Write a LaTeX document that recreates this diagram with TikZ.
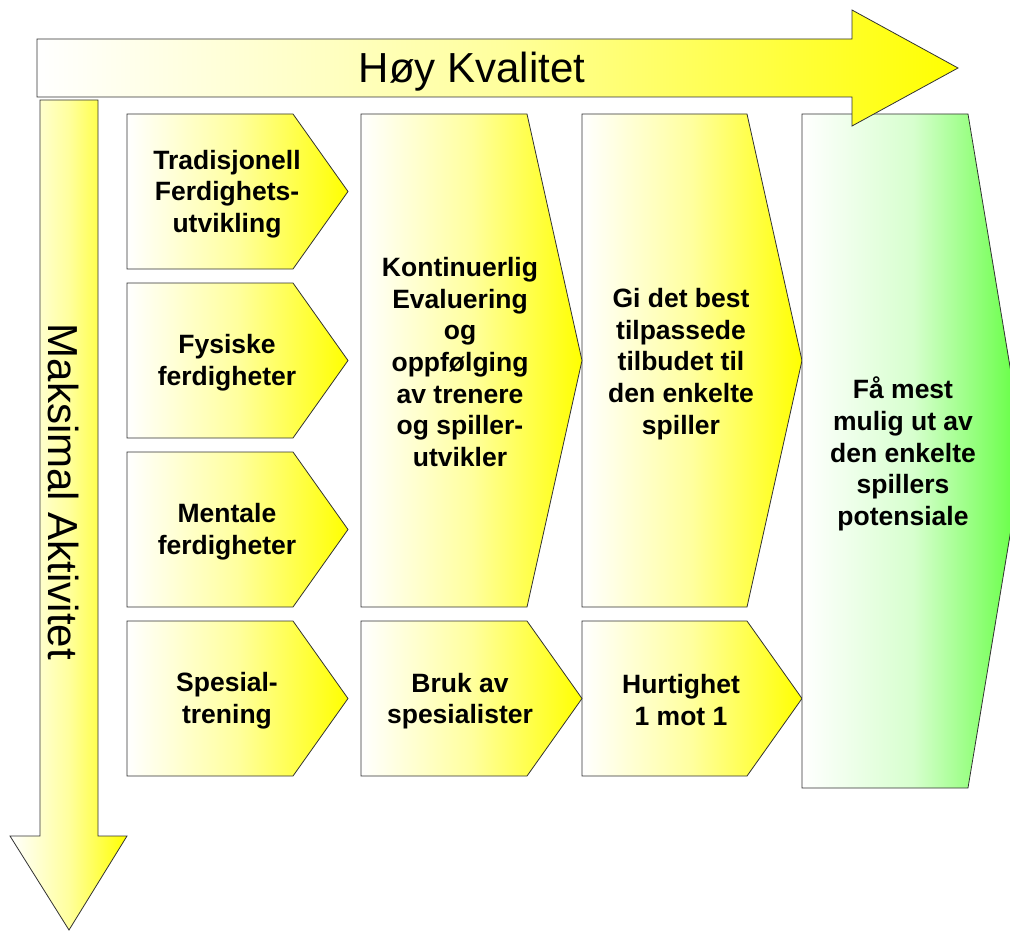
\documentclass[tikz,border=0pt]{standalone}
\usepackage{fontspec}
\setmainfont{Liberation Sans}
\definecolor{grn}{RGB}{95,255,60}
\definecolor{edge}{RGB}{50,50,50}
\begin{document}
\begin{tikzpicture}[x=1pt,y=-1pt,
  yshp/.style={draw=edge, line width=0.8pt, left color=white, right color=yellow, middle color=yellow!38!white},
  gshp/.style={draw=edge, line width=0.8pt, left color=white, right color=grn, middle color=grn!25!white},
  lbl/.style={align=center, font=\bfseries\fontsize{26.5}{31.7}\selectfont, inner sep=0pt},
  big/.style={font=\fontsize{42}{48}\selectfont, inner sep=0pt}]
\useasboundingbox (0,0) rectangle (1010,931);
\clip (0,0) rectangle (1010,931);

% vertical arrow
\path[yshp] (40,100) -- (98,100) -- (98,836) -- (127,836) -- (69,930) -- (10,836) -- (40,836) -- cycle;
\node[big, rotate=-90, anchor=base] (ma) at (48,492) {Maksimal Aktivitet};

% column 1
\path[yshp] (127,114) -- (293,114) -- (348,191.5) -- (293,269) -- (127,269) -- cycle;
\path[yshp] (127,283) -- (293,283) -- (348,360.5) -- (293,438) -- (127,438) -- cycle;
\path[yshp] (127,452) -- (293,452) -- (348,529.5) -- (293,607) -- (127,607) -- cycle;
\path[yshp] (127,621) -- (293,621) -- (348,698.5) -- (293,776) -- (127,776) -- cycle;

% column 3 (drawn before column 2 so column 2 tips lie on top)
\path[yshp] (582,114) -- (747,114) -- (802,360.5) -- (747,607) -- (582,607) -- cycle;
\path[yshp] (582,621) -- (747,621) -- (802,698.5) -- (747,776) -- (582,776) -- cycle;

% column 2
\path[yshp] (361,114) -- (527,114) -- (582,360.5) -- (527,607) -- (361,607) -- cycle;
\path[yshp] (361,621) -- (527,621) -- (582,698.5) -- (527,776) -- (361,776) -- cycle;

% column 4
\path[gshp] (802,114) -- (968,114) -- (1024,451) -- (968,788) -- (802,788) -- cycle;

% top arrow
\path[yshp] (37,39) -- (852,39) -- (852,10) -- (958,68) -- (852,126) -- (852,97) -- (37,97) -- cycle;
\node[big, anchor=base] (hk) at (472,83) {Høy Kvalitet};

% labels
\node[lbl] (t1) at (227,194) {Tradisjonell\\Ferdighets-\\utvikling};
\node[lbl] (t2) at (227,363) {Fysiske\\ferdigheter};
\node[lbl] (t3) at (227,532) {Mentale\\ferdigheter};
\node[lbl] (t4) at (227,701) {Spesial-\\trening};
\node[lbl] (k1) at (460,362) {Kontinuerlig\\Evaluering\\og\\oppfølging\\av trenere\\og spiller-\\utvikler};
\node[lbl] (k2) at (460,701) {Bruk av\\spesialister};
\node[lbl] (g1) at (681,364) {Gi det best\\tilpassede\\tilbudet til\\den enkelte\\spiller};
\node[lbl] (g2) at (681,700) {Hurtighet\\1 mot 1};
\node[lbl] (f1) at (903,454) {Få mest\\mulig ut av\\den enkelte\\spillers\\potensiale};
\end{tikzpicture}
\end{document}
